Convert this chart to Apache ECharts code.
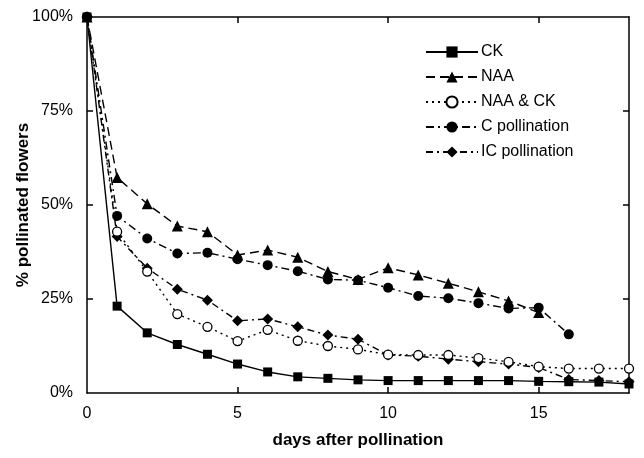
<!DOCTYPE html>
<html>
<head>
<meta charset="utf-8">
<script src="https://cdn.jsdelivr.net/npm/echarts@6/dist/echarts.min.js"></script>
<style>html,body{margin:0;padding:0;background:#fff}#c{width:644px;height:458px}</style>
</head>
<body>
<div id="c"></div>
<script>
var days = [0,1,2,3,4,5,6,7,8,9,10,11,12,13,14,15,16,17,18];
var ckVals   = [100,23.1,16.0,12.9,10.3,7.7,5.6,4.3,3.9,3.5,3.3,3.3,3.3,3.3,3.3,3.1,3.0,2.9,2.4];
var naaVals  = [100,57.3,50.3,44.4,42.9,36.7,38.0,36.1,32.3,30.2,33.3,31.4,29.2,26.9,24.5,21.4,null,null,null];
var naaCkVals= [100,42.9,32.3,21.0,17.6,13.8,16.8,13.9,12.5,11.6,10.2,10.1,10.1,9.3,8.3,7.0,6.5,6.5,6.5];
var cPolVals = [100,47.1,41.1,37.1,37.3,35.6,34.0,32.4,30.2,30.0,28.0,25.8,25.2,23.9,22.5,22.7,15.6,null,null];
var icPolVals= [100,41.6,33.2,27.6,24.7,19.2,19.7,17.6,15.4,14.3,10.1,9.8,9.0,8.3,7.7,6.8,3.6,3.3,3.0];
var seriesNames = ['CK','NAA','NAA & CK','C pollination','IC pollination'];
var xTicks = [0,5,10,15];
var yTicks = [0,25,50,75,100];

function pairs(v){ return days.map(function(d,i){ return [d, v[i]]; }); }
var FONT = '"Liberation Sans", Arial, sans-serif';
var chart = echarts.init(document.getElementById('c'), null, {renderer:'canvas'});
var axisLineStyle = {color:'#000', width:1.5};
function mk(name, vals, symbol, size, lineType, open){
  return {
    name: name, type:'line', data: pairs(vals), symbol: symbol, symbolSize: size,
    showAllSymbol: true, connectNulls:false,
    lineStyle:{color:'#000', width:1.4, type: lineType},
    itemStyle: open ? {color:'#fff', borderColor:'#000', borderWidth:1.3} : {color:'#000', borderColor:'#000', borderWidth:0},
    emphasis:{disabled:true}, animation:false
  };
}
chart.setOption({
  animation:false,
  backgroundColor:'#fff',
  grid:{left:87, right:15, top:17, bottom:65, containLabel:false},
  legend:{
    orient:'vertical', left:425, top:44, itemWidth:52, itemHeight:14, itemGap:9, padding:0,
    textStyle:{fontFamily:FONT, fontSize:16, color:'#000', padding:[0,0,0,-2]},
    data: seriesNames
  },
  xAxis:[{
    type:'value', min:0, max:18, interval:5,
    name:'days after pollination', nameLocation:'middle', nameGap:39, nameMoveOverlap:false,
    nameTextStyle:{fontFamily:FONT, fontSize:17, fontWeight:'bold', color:'#000'},
    axisLine:{show:true, onZero:false, lineStyle:axisLineStyle},
    axisTick:{show:true, inside:true, length:6, lineStyle:axisLineStyle, customValues:[5,10,15]},
    axisLabel:{fontFamily:FONT, fontSize:16, color:'#000', margin:13, customValues: xTicks},
    splitLine:{show:false}
  },{
    type:'value', min:0, max:18, interval:5, position:'top',
    axisLine:{show:true, onZero:false, lineStyle:axisLineStyle},
    axisTick:{show:true, inside:true, length:6, lineStyle:axisLineStyle, customValues:[5,10,15]},
    axisLabel:{show:false}, splitLine:{show:false}
  }],
  yAxis:[{
    type:'value', min:0, max:100, interval:25,
    name:'% pollinated flowers', nameLocation:'middle', nameGap:55, nameMoveOverlap:false,
    nameTextStyle:{fontFamily:FONT, fontSize:17, fontWeight:'bold', color:'#000'},
    axisLine:{show:true, onZero:false, lineStyle:axisLineStyle},
    axisTick:{show:true, inside:true, length:6, lineStyle:axisLineStyle, customValues:[25,50,75]},
    axisLabel:{fontFamily:FONT, fontSize:16, color:'#000', margin:14, formatter:'{value}%', customValues: yTicks},
    splitLine:{show:false}
  },{
    type:'value', min:0, max:100, interval:25, position:'right',
    axisLine:{show:true, onZero:false, lineStyle:axisLineStyle},
    axisTick:{show:true, inside:true, length:6, lineStyle:axisLineStyle, customValues:[25,50,75]},
    axisLabel:{show:false}, splitLine:{show:false}
  }],
  series:[
    mk(seriesNames[4], icPolVals, 'diamond', 11, [7,4,2,4], false),
    mk(seriesNames[3], cPolVals, 'circle', 10, [8,4,2,4], false),
    mk(seriesNames[2], naaCkVals, 'circle', 9, [2,4], true),
    mk(seriesNames[1], naaVals, 'triangle', 11, [9,5], false),
    mk(seriesNames[0], ckVals, 'rect', 9, 'solid', false)
  ]
});
</script>
</body>
</html>
